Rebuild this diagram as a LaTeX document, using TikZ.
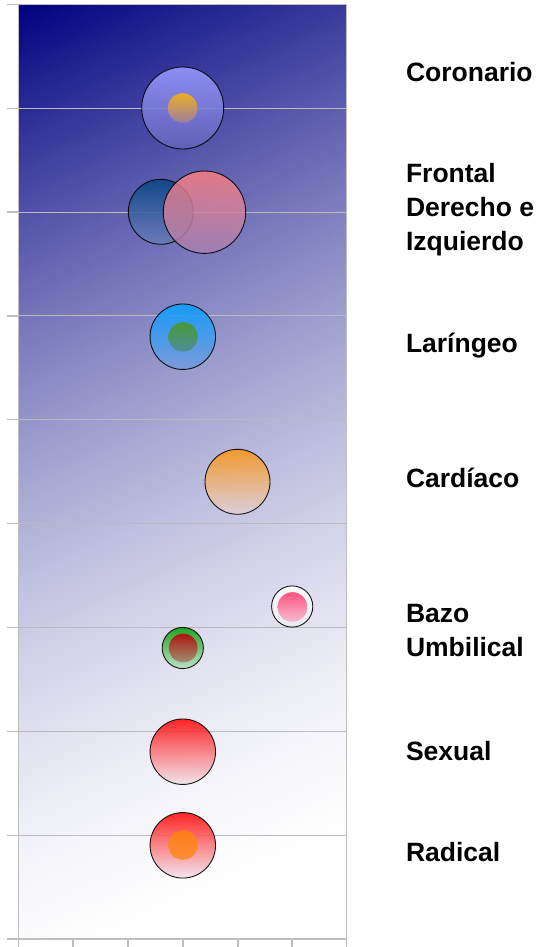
\documentclass[tikz,border=0pt]{standalone}
\usepackage{fontspec}
\setmainfont{Liberation Sans}
\definecolor{axgray}{RGB}{190,190,190}
\definecolor{gridgray}{RGB}{185,185,190}
\begin{document}
\begin{tikzpicture}[x=1pt,y=-1pt,
  axisline/.style={draw=axgray, line width=1.3pt},
  gridline/.style={draw=gridgray, line width=1pt},
  bubble/.style={circle, inner sep=0pt, outer sep=0pt, draw=black, line width=0.9pt, fill opacity=0.88, draw opacity=0.9},
  core/.style={circle, inner sep=0pt, outer sep=0pt, fill opacity=0.92},
  lbl/.style={font=\fontsize{26.5}{34}\selectfont\bfseries, inner sep=0pt, outer sep=0pt, align=left}
]
\useasboundingbox (0,0) rectangle (538,947);
\fill[white] (0,0) rectangle (538,947);
% background gradient of the plot area
\begin{scope}
\clip (18.3,4.3) rectangle (346.7,939);
\foreach \i in {0,...,219} {
  \pgfmathsetmacro\sv{\i*5}
  \pgfmathsetmacro\tv{1-pow(max(1-(\sv+2.5)/1000,0.0001),1.6)}
  \pgfmathsetmacro\bv{0.502+0.498*\tv}
  \definecolor{bandc}{rgb}{\tv,\tv,\bv}
  \fill[bandc] (18.3,\sv+4.3) -- (346.7,\sv+4.3-147.8) -- (346.7,\sv+14.3-147.8) -- (18.3,\sv+14.3) -- cycle;
}
\end{scope}
% grid lines and ticks
\foreach \k in {1,...,8} {
  \draw[gridline] (18.3,4.3+103.86*\k) -- (346.7,4.3+103.86*\k);
  \draw[axisline] (7,4.3+103.86*\k) -- (18.3,4.3+103.86*\k);
}
\draw[axisline] (7,4.3) -- (346.7,4.3);
\draw[axisline] (18.3,4.3) -- (18.3,947);
\draw[axisline] (346.7,4.3) -- (346.7,947);
\draw[axisline] (7,939) -- (346.7,939);
\foreach \xx in {73,128,183,238,292} \draw[axisline] (\xx,939) -- (\xx,947);
% bubbles
\node[bubble, minimum size=82, top color={rgb,255:red,154;green,154;blue,255}, bottom color={rgb,255:red,98;green,98;blue,184}] (coron) at (182.7,108) {};
\node[core, minimum size=29.5, top color={rgb,255:red,245;green,176;blue,21}, bottom color={rgb,255:red,160;green,128;blue,160}] (coronin) at (182.7,108) {};
\node[bubble, minimum size=65, top color={rgb,255:red,8;green,70;blue,135}, bottom color={rgb,255:red,110;green,125;blue,185}] (frontl) at (160.8,211.8) {};
\node[bubble, minimum size=82.4, fill opacity=0.82, top color={rgb,255:red,255;green,128;blue,128}, bottom color={rgb,255:red,165;green,128;blue,180}] (frontr) at (204.5,212.2) {};
\node[bubble, minimum size=65.5, top color={rgb,255:red,8;green,158;blue,255}, bottom color={rgb,255:red,120;green,155;blue,220}] (laring) at (182.8,336.7) {};
\node[core, minimum size=29.4, top color={rgb,255:red,70;green,155;blue,40}, bottom color={rgb,255:red,80;green,140;blue,150}] (laringin) at (183,337) {};
\node[bubble, minimum size=65, top color={rgb,255:red,250;green,150;blue,25}, bottom color={rgb,255:red,222;green,208;blue,218}] (cardiac) at (237.5,481.8) {};
\node[bubble, minimum size=41.2, top color={rgb,255:red,255;green,255;blue,255}, bottom color={rgb,255:red,235;green,235;blue,242}] (bazo) at (292.2,606.5) {};
\node[core, minimum size=29.6, top color={rgb,255:red,255;green,70;blue,120}, bottom color={rgb,255:red,245;green,185;blue,205}] (bazoin) at (292.4,607) {};
\node[bubble, minimum size=41.2, top color={rgb,255:red,10;green,160;blue,10}, bottom color={rgb,255:red,185;green,225;blue,195}] (umbil) at (182.8,648) {};
\node[core, minimum size=28.8, top color={rgb,255:red,180;green,10;blue,10}, bottom color={rgb,255:red,160;green,140;blue,110}] (umbilin) at (183.2,648) {};
\node[bubble, minimum size=65.5, top color={rgb,255:red,255;green,10;blue,10}, bottom color={rgb,255:red,242;green,228;blue,236}] (sexual) at (182.8,751.7) {};
\node[bubble, minimum size=65.5, top color={rgb,255:red,255;green,10;blue,10}, bottom color={rgb,255:red,242;green,228;blue,236}] (radical) at (182.8,845.3) {};
\node[core, minimum size=29.6, top color={rgb,255:red,255;green,128;blue,20}, bottom color={rgb,255:red,255;green,140;blue,45}] (radicalin) at (183,845) {};
% labels
\node[lbl, anchor=base west] (tcoron) at (406,81.5) {Coronario};
\node[lbl, anchor=north west] (tfront) at (406,163.2) {Frontal\\Derecho e\\Izquierdo};
\node[lbl, anchor=base west] (tlaring) at (406,352) {Laríngeo};
\node[lbl, anchor=base west] (tcardiac) at (406,487) {Cardíaco};
\node[lbl, anchor=north west] (tbazo) at (406,604.2) {Bazo\\Umbilical};
\node[lbl, anchor=base west] (tsexual) at (406,760) {Sexual};
\node[lbl, anchor=base west] (tradical) at (406,861) {Radical};
\end{tikzpicture}
\end{document}
